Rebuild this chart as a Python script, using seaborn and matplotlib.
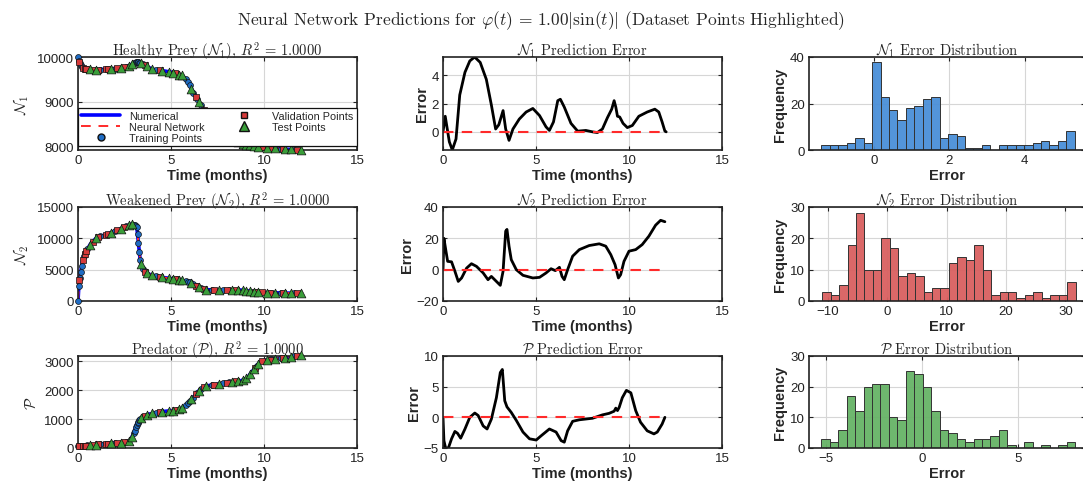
"""
Painel 3x3: previsões da rede neural vs solução numérica, erro e histograma do erro.
"""
import matplotlib
matplotlib.use("Agg")
import matplotlib.pyplot as plt
from matplotlib.lines import Line2D
import seaborn as sns
import numpy as np
import pandas as pd

sns.set_theme(style="whitegrid")
plt.rcParams["font.family"] = ["Liberation Sans", "DejaVu Sans"]
plt.rcParams["mathtext.fontset"] = "cm"

# ---- tempos das amostras (mesma divisão para as três espécies)
train_t = [0.0, 0.05, 0.1, 0.15, 0.2, 0.3, 0.4, 0.5, 1.2, 2.0, 2.6, 3.0, 3.05, 3.1, 3.15, 3.2, 3.25, 3.3,
           3.35, 3.5, 4.2, 5.3, 5.8, 5.9, 6.0, 6.2, 6.4, 6.6, 7.2, 7.8, 8.1, 9.6, 10.4, 10.9, 11.6]
val_t = [0.08, 0.25, 0.35, 0.45, 0.8, 1.1, 1.5, 1.6, 2.1, 2.5, 3.6, 4.4, 5.2, 6.35, 6.75, 7.3, 8.0, 8.5,
         9.5, 9.9, 10.3, 11.0, 11.8]
test_t = [0.65, 0.95, 1.8, 2.3, 2.75, 2.9, 3.4, 3.7, 4.0, 4.5, 4.9, 5.1, 5.45, 5.6, 6.1, 6.5, 6.9, 7.6,
          8.3, 8.6, 8.85, 9.05, 9.25, 9.45, 9.7, 10.15, 10.6, 11.15, 11.45, 12.0]

# ---- N1 (presa saudável)
n1_t = [0, 0.05, 0.1, 0.2, 0.3, 0.5, 1.0, 1.5, 2.0, 2.5, 2.8, 3.0, 3.15, 3.3, 3.5, 3.8, 4.0, 4.5, 5.0, 5.3,
        5.6, 5.85, 6.0, 6.2, 6.4, 6.6, 6.8, 7.0, 7.5, 8.0, 9.0, 10.0, 11.0, 12.0]
n1 = [10000, 9920, 9860, 9770, 9740, 9725, 9720, 9730, 9745, 9770, 9820, 9870, 9895, 9880, 9840, 9770, 9730,
      9700, 9665, 9630, 9590, 9480, 9380, 9200, 9060, 8920, 8790, 8650, 8380, 8200, 8030, 7970, 7935, 7905]
n1_train = [10000, 9920, 9860, 9815, 9770, 9740, 9732, 9725, 9722, 9745, 9787, 9870, 9878, 9887, 9895, 9890,
            9885, 9880, 9870, 9840, 9718, 9630, 9502, 9447, 9380, 9200, 9060, 8920, 8542, 8272, 8183, 7994,
            7956, 7938, 7917]
n1_val = [9884, 9755, 9736, 9729, 9722, 9721, 9730, 9733, 9750, 9770, 9817, 9706, 9642, 9095, 8822, 8488,
          8200, 8115, 8000, 7976, 7960, 7935, 7911]
n1_test = [9724, 9720, 9739, 9760, 9812, 9845, 9864, 9793, 9730, 9700, 9672, 9651, 9610, 9590, 9290, 8990,
           8720, 8344, 8149, 8098, 8056, 8027, 8015, 8003, 7988, 7965, 7949, 7931, 7922, 7905]

# ---- N2 (presa enfraquecida)
n2_t = [0, 0.04, 0.08, 0.13, 0.18, 0.25, 0.3, 0.45, 0.67, 1.0, 1.7, 2.26, 2.6, 2.9, 3.05, 3.16, 3.25, 3.34,
        3.45, 3.6, 3.88, 4.6, 5.5, 5.9, 6.23, 6.5, 6.77, 7.2, 7.67, 8.75, 9.5, 10.0, 11.0, 12.0]
n2 = [0, 2100, 3300, 4300, 5300, 6500, 7200, 8000, 9100, 10100, 10800, 11500, 11900, 12300, 12150, 11800,
      9200, 6600, 5300, 4700, 4200, 3750, 3350, 3100, 2650, 2200, 1870, 1750, 1700, 1750, 1500, 1350, 1280, 1220]
n2_train = [0, 2400, 3700, 4700, 5640, 7200, 7730, 8250, 10300, 11175, 11900, 12200, 12150, 11990, 11830,
            10640, 9200, 7760, 6480, 5100, 4000, 3440, 3160, 3100, 2960, 2690, 2370, 2080, 1750, 1706, 1725,
            1470, 1322, 1287, 1244]
n2_val = [3300, 6500, 7470, 8000, 9490, 10200, 10600, 10700, 11300, 11780, 4700, 3875, 3480, 2450, 1890, 1740,
          1715, 1740, 1500, 1380, 1330, 1280, 1232]
n2_test = [9000, 10000, 10925, 11550, 12100, 12300, 5890, 4520, 4125, 3810, 3620, 3570, 3370, 3290, 2830, 2200,
           1835, 1710, 1730, 1745, 1720, 1650, 1580, 1515, 1440, 1340, 1310, 1270, 1250, 1220]

# ---- P (predador)
p_t = [0, 0.7, 1.7, 2.35, 2.6, 2.8, 2.98, 3.16, 3.34, 3.55, 3.8, 4.6, 5.05, 5.4, 5.6, 5.87, 6.2, 6.4, 6.6,
       6.85, 7.66, 8.4, 8.74, 9.1, 9.37, 9.64, 9.85, 10.0, 10.7, 11.26, 12.0]
p = [60, 100, 160, 180, 200, 260, 490, 830, 1000, 1100, 1170, 1265, 1290, 1320, 1380, 1520, 1745, 1915, 2050,
     2140, 2220, 2310, 2320, 2420, 2650, 2880, 2980, 3020, 3090, 3135, 3200]
p_train = [60, 63, 66, 69, 71, 77, 83, 89, 130, 169, 200, 528, 585, 717, 811, 868, 915, 962, 1005, 1081, 1217,
           1311, 1484, 1540, 1608, 1745, 1915, 2050, 2174, 2237, 2273, 2846, 3060, 3106, 3165]
p_val = [65, 74, 80, 86, 106, 124, 148, 154, 172, 192, 1114, 1241, 1303, 1872, 2104, 2184, 2261, 2313, 2761,
         2993, 3050, 3114, 3174]
p_test = [97, 115, 163, 178, 245, 388, 1040, 1142, 1194, 1253, 1282, 1294, 1335, 1380, 1698, 1983, 2145, 2214,
          2298, 2316, 2350, 2406, 2548, 2718, 2918, 3035, 3080, 3126, 3152, 3200]

# ---- erros de previsão
e1_t = [0, 0.12, 0.23, 0.34, 0.5, 0.7, 0.9, 1.18, 1.44, 1.7, 2.0, 2.33, 2.6, 2.83, 3.0, 3.23, 3.37, 3.55, 3.76,
        4.1, 4.47, 4.83, 5.19, 5.54, 5.72, 5.94, 6.17, 6.31, 6.52, 6.88, 7.24, 7.68, 8.04, 8.3, 8.57, 8.84, 9.07,
        9.2, 9.29, 9.38, 9.5, 9.68, 9.91, 10.18, 10.53, 10.98, 11.39, 11.6, 11.78, 11.93, 12.0]
e1 = [0, 1.1, 0.2, -0.7, -1.28, -0.5, 2.6, 4.2, 5.0, 5.28, 4.9, 3.7, 1.9, 0.2, 0.5, 1.5, 0.2, -0.6, 0.2, 0.9,
      1.4, 1.65, 1.15, 0.35, 0.1, 0.7, 2.2, 2.3, 1.75, 0.6, 0.05, 0.1, 0.0, -0.05, 0.2, 1.0, 1.6, 2.2, 1.75, 1.1,
      1.05, 0.6, 0.3, 0.45, 1.1, 1.4, 1.6, 1.4, 0.7, 0.05, 0.0]
e2_t = [0, 0.05, 0.16, 0.25, 0.46, 0.64, 0.82, 1.0, 1.27, 1.53, 1.8, 2.16, 2.42, 2.6, 2.87, 3.08, 3.23, 3.37,
        3.44, 3.55, 3.67, 3.94, 4.3, 4.83, 5.19, 5.54, 5.81, 6.04, 6.26, 6.4, 6.52, 6.7, 6.97, 7.33, 7.86, 8.4,
        8.75, 9.02, 9.25, 9.43, 9.55, 9.73, 10.0, 10.36, 10.71, 11.07, 11.43, 11.7, 11.93]
e2 = [0, 20, 11.8, 5.3, 5, -1, -7.5, -5.3, 1, 3.8, 2.1, -2.1, -6.4, -4.3, -7.5, -10, -1, 24.6, 25.7, 15, 6.4,
      0, -3.6, -5.3, -4.9, -2.1, 0.6, -0.6, 1.5, -4.3, -6.4, 0, 8.6, 12.8, 15.4, 16.5, 15, 9.6, 3.2, -5.3, -3.2,
      5.3, 11.8, 12.8, 16, 21.4, 28.4, 31.5, 30.6]
e3_t = [0, 0.05, 0.14, 0.29, 0.46, 0.64, 0.78, 0.95, 1.18, 1.44, 1.71, 1.89, 2.16, 2.37, 2.6, 2.87, 3.08, 3.19,
        3.32, 3.44, 3.67, 3.94, 4.3, 4.65, 5.01, 5.28, 5.72, 6.08, 6.35, 6.52, 6.7, 6.97, 7.33, 8.04, 8.57, 8.93,
        9.2, 9.29, 9.38, 9.47, 9.64, 9.86, 10.1, 10.36, 10.62, 10.98, 11.34, 11.52, 11.78, 11.93]
e3 = [0, -3.8, -5.0, -5.0, -3.5, -2.3, -2.6, -3.4, -1.9, 0, 0.7, 0.3, -1.4, -1.9, -0.3, 3.2, 7.3, 7.8, 2.7, 1.7,
      0.8, -0.5, -2.4, -3.5, -3.7, -3.0, -1.9, -2.4, -3.8, -4.05, -2.2, -0.65, -0.4, -0.15, 0.4, 0.65, 1.0, 1.5,
      1.1, 1.6, 3.2, 4.4, 4.0, 1.1, -0.8, -2.2, -2.7, -2.4, -1.1, 0]

# ---- histogramas (contagens por classe, 30 classes)
h1_counts = [2, 2, 2, 3, 5, 3, 38, 23, 17, 13, 18, 19, 22, 23, 5, 7, 6, 1, 1, 2, 0, 2, 2, 2, 2, 3, 4, 2, 4, 8]
h1_range = (-1.39, 5.33)
h2_counts = [3, 2, 5, 18, 28, 10, 10, 20, 17, 8, 9, 8, 3, 4, 4, 12, 14, 13, 18, 10, 2, 3, 3, 1, 2, 3, 1, 2, 2, 6]
h2_range = (-10.96, 31.7)
h3_counts = [3, 2, 6, 17, 12, 20, 21, 21, 10, 9, 25, 24, 20, 12, 6, 5, 3, 2, 3, 3, 4, 6, 1, 0, 2, 0, 1, 0, 1, 2]
h3_range = (-5.23, 7.98)

C_TRAIN, C_VAL, C_TEST = "#1f6cc4", "#d63a3a", "#3a9e3a"
SERIF = "cmr10"

# posições dos eixos em pixels (esquerda, topo, largura, altura) numa figura 1083x489
W, H = 1083, 489
COLS = [(78, 279), (443, 279), (809, 276)]
ROWS = [(58, 93), (208, 94), (357, 92)]


def eixo(fig, r, c):
    x0, w = COLS[c]
    y0, h = ROWS[r]
    ax = fig.add_axes([x0 / W, 1 - (y0 + h) / H, w / W, h / H])
    ax.set_facecolor("white")
    ax.grid(True, color="#d6d6d6", lw=0.8)
    for s in ax.spines.values():
        s.set_color("#222222"); s.set_linewidth(1.2)
    ax.tick_params(direction="in", length=3, width=0.8, top=True, right=True,
                   labelsize=9.5, colors="#222222", pad=3,
                   bottom=True, left=True)
    return ax


def painel_dinamica(ax, t, y, tr, va, te, titulo, ylab, ylim, yticks):
    sns.lineplot(x=t, y=y, ax=ax, color="#0000ff", lw=2.6, sort=False, estimator=None)
    sns.lineplot(x=t, y=y, ax=ax, color="#ff2a2a", lw=1.4, sort=False, estimator=None, linestyle=(0, (5, 4)))
    kw = dict(ax=ax, edgecolor="#111111", linewidth=0.5, clip_on=False, legend=False)
    sns.scatterplot(x=train_t, y=tr, color=C_TRAIN, marker="o", s=18, zorder=3, **kw)
    sns.scatterplot(x=val_t, y=va, color=C_VAL, marker="s", s=16, zorder=4, **kw)
    sns.scatterplot(x=test_t, y=te, color=C_TEST, marker="^", s=40, zorder=5, **kw)
    ax.set_xlim(0, 15); ax.set_xticks([0, 5, 10, 15])
    ax.set_ylim(*ylim); ax.set_yticks(yticks)
    ax.set_title(titulo, fontfamily=SERIF, fontsize=10.5, pad=2)
    ax.set_ylabel(ylab, fontsize=11, labelpad=4)
    ax.set_xlabel("Time (months)", fontsize=10.5, fontweight="bold", labelpad=1)


def painel_erro(ax, t, e, titulo, ylim, yticks):
    sns.lineplot(x=t, y=e, ax=ax, color="black", lw=2.0, sort=False, estimator=None)
    sns.lineplot(x=[0, 12], y=[0, 0], ax=ax, color="#ff2a2a", lw=1.5, linestyle=(0, (5, 4)))
    ax.set_xlim(0, 15); ax.set_xticks([0, 5, 10, 15])
    ax.set_ylim(*ylim); ax.set_yticks(yticks)
    ax.set_title(titulo, fontfamily=SERIF, fontsize=10.5, pad=2)
    ax.set_ylabel("Error", fontsize=10.5, fontweight="bold", labelpad=2)
    ax.set_xlabel("Time (months)", fontsize=10.5, fontweight="bold", labelpad=1)


def painel_hist(ax, counts, rng, cor, titulo, xlim, xticks, ylim, yticks):
    edges = np.linspace(rng[0], rng[1], len(counts) + 1)
    df = pd.DataFrame({"erro": (edges[:-1] + edges[1:]) / 2, "n": counts})
    sns.histplot(data=df, x="erro", weights="n", bins=len(counts), binrange=rng, ax=ax,
                 color=cor, alpha=0.95, edgecolor="#333333", linewidth=0.7)
    ax.set_xlim(*xlim); ax.set_xticks(xticks)
    ax.set_ylim(*ylim); ax.set_yticks(yticks)
    ax.set_title(titulo, fontfamily=SERIF, fontsize=10.5, pad=2)
    ax.set_ylabel("Frequency", fontsize=10.5, fontweight="bold", labelpad=2)
    ax.set_xlabel("Error", fontsize=10.5, fontweight="bold", labelpad=1)
    ax.set_axisbelow(True)


def main():
    fig = plt.figure(figsize=(W / 100, H / 100), dpi=100)

    ax = eixo(fig, 0, 0)
    painel_dinamica(ax, n1_t, n1, n1_train, n1_val, n1_test,
                    r"Healthy Prey $(\mathcal{N}_1)$, $R^2\,=\,1.0000$", r"$\mathcal{N}_1$",
                    (7910, 10005), [8000, 9000, 10000])
    handles = [
        Line2D([], [], color="#0000ff", lw=2.6),
        Line2D([], [], color="#ff2a2a", lw=1.4, linestyle=(0, (5, 4))),
        Line2D([], [], color=C_TRAIN, marker="o", ls="", markeredgecolor="#111111", markersize=5),
        Line2D([], [], color=C_VAL, marker="s", ls="", markeredgecolor="#111111", markersize=5),
        Line2D([], [], color=C_TEST, marker="^", ls="", markeredgecolor="#111111", markersize=6.5),
    ]
    labels = ["Numerical", "Neural Network", "Training Points", "Validation Points", "Test Points"]
    leg = ax.legend(handles, labels, ncol=2, loc="lower left", bbox_to_anchor=(0.0, 0.04, 1.0, 0.42),
                    mode="expand", fontsize=7.8, frameon=True, fancybox=False, framealpha=1,
                    edgecolor="#111111", handlelength=3.6, borderpad=0.3, labelspacing=0.1,
                    handletextpad=0.8, columnspacing=1.0, borderaxespad=0)
    leg.get_frame().set_linewidth(0.9)
    leg.set_zorder(10)

    ax = eixo(fig, 1, 0)
    painel_dinamica(ax, n2_t, n2, n2_train, n2_val, n2_test,
                    r"Weakened Prey $(\mathcal{N}_2)$, $R^2\,=\,1.0000$", r"$\mathcal{N}_2$",
                    (0, 15000), [0, 5000, 10000, 15000])

    ax = eixo(fig, 2, 0)
    painel_dinamica(ax, p_t, p, p_train, p_val, p_test,
                    r"Predator $(\mathcal{P})$, $R^2\,=\,1.0000$", r"$\mathcal{P}$",
                    (0, 3180), [0, 1000, 2000, 3000])

    painel_erro(eixo(fig, 0, 1), e1_t, e1, r"$\mathcal{N}_1$ Prediction Error", (-1.28, 5.28), [0, 2, 4])
    painel_erro(eixo(fig, 1, 1), e2_t, e2, r"$\mathcal{N}_2$ Prediction Error", (-20, 40), [-20, 0, 20, 40])
    painel_erro(eixo(fig, 2, 1), e3_t, e3, r"$\mathcal{P}$ Prediction Error", (-5, 10), [-5, 0, 5, 10])

    painel_hist(eixo(fig, 0, 2), h1_counts, h1_range, "#4a8fd8", r"$\mathcal{N}_1$ Error Distribution",
                (-1.72, 5.6), [0, 2, 4], (0, 40), [0, 20, 40])
    painel_hist(eixo(fig, 1, 2), h2_counts, h2_range, "#d96060", r"$\mathcal{N}_2$ Error Distribution",
                (-13.2, 33.3), [-10, 0, 10, 20, 30], (0, 30), [0, 10, 20, 30])
    painel_hist(eixo(fig, 2, 2), h3_counts, h3_range, "#66b366", r"$\mathcal{P}$ Error Distribution",
                (-5.87, 8.5), [-5, 0, 5], (0, 30), [0, 10, 20, 30])

    fig.suptitle(r"Neural Network Predictions for $\varphi(t)\,=\,1.00|\sin(t)|$ (Dataset Points Highlighted)",
                 fontfamily=SERIF, fontsize=12.5, y=0.982)
    fig.savefig("out.png", dpi=100, facecolor="white")
    plt.close(fig)


if __name__ == "__main__":
    main()
